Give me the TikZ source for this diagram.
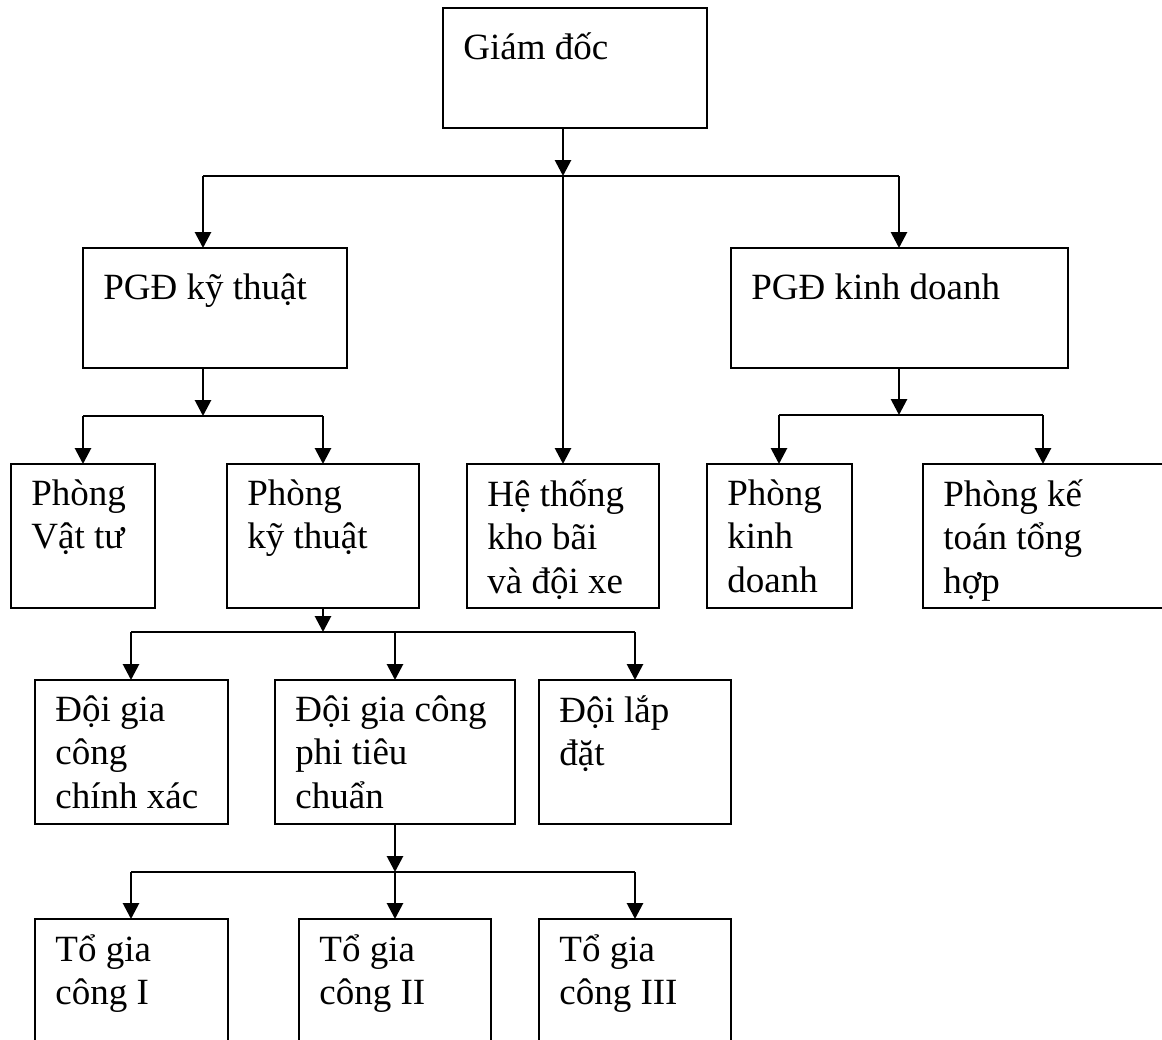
\documentclass[tikz,border=0pt]{standalone}
\usepackage{fontspec}
\setmainfont{Liberation Serif}
\usetikzlibrary{arrows.meta}

\begin{document}
\begin{tikzpicture}[x=0.5pt, y=-0.5pt,
  font=\fontsize{18.5}{21.8}\selectfont,
  box/.style={draw, line width=1pt, inner sep=0pt, outer sep=0pt, minimum height=72pt},
  txt/.style={anchor=north west, inner sep=0pt, align=left, xshift=10pt, yshift=-7.5pt,
    execute at begin node={\rule{0pt}{18pt}}},
  arr/.style={line width=1.4pt, -{Triangle[width=8pt, length=8pt]}},
  bus/.style={line width=0.9pt}]
\clip (0,0) rectangle (1162,1039);
% top levels
\node[box, minimum width=132pt, minimum height=60pt, label={[txt]north west:Giám đốc}] (gd) at (575,68) {};
\node[box, minimum width=132pt, minimum height=60pt, label={[txt]north west:PGĐ kỹ thuật}] (pgdkt) at (215,308) {};
\node[box, minimum width=168.5pt, minimum height=60pt, label={[txt]north west:PGĐ kinh doanh}] (pgdkd) at (899.5,308) {};
% phong ban
\node[box, minimum width=72pt, label={[txt]north west:Phòng\\Vật tư}] (pvt) at (83,536) {};
\node[box, minimum width=96pt, label={[txt]north west:Phòng\\kỹ thuật}] (pkt) at (323,536) {};
\node[box, minimum width=96pt, label={[txt]north west:Hệ thống\\kho bãi\\và đội xe}] (htk) at (563,536) {};
\node[box, minimum width=72.5pt, label={[txt]north west:Phòng\\kinh\\doanh}] (pkd) at (779.5,536) {};
\node[box, minimum width=120pt, label={[txt]north west:Phòng kế\\toán tổng\\hợp}] (pkt2) at (1043,536) {};
% doi
\node[box, minimum width=96.5pt, label={[txt]north west:Đội gia\\công\\chính xác}] (dgc) at (131.5,752) {};
\node[box, minimum width=120pt, label={[txt]north west:Đội gia công\\phi tiêu\\chuẩn}] (dpt) at (395,752) {};
\node[box, minimum width=96pt, label={[txt]north west:Đội lắp\\đặt}] (dld) at (635,752) {};
% to
\node[box, minimum width=96.5pt, label={[txt]north west:Tổ gia\\công I}] (tgc1) at (131.5,991) {};
\node[box, minimum width=96pt, label={[txt]north west:Tổ gia\\công II}] (tgc2) at (395,991) {};
\node[box, minimum width=96pt, label={[txt]north west:Tổ gia\\công III}] (tgc3) at (635,991) {};
% junctions
\coordinate (jgd) at (563,176);
\coordinate (jl) at (203,176);
\coordinate (jr) at (899,176);
\coordinate (jkt) at (203,416);
\coordinate (jkt1) at (83,416);
\coordinate (jkt2) at (323,416);
\coordinate (jkd) at (899,415);
\coordinate (jkd1) at (779,415);
\coordinate (jkd2) at (1043,415);
\coordinate (jd) at (323,632);
\coordinate (jd1) at (131,632);
\coordinate (jd2) at (395,632);
\coordinate (jd3) at (635,632);
\coordinate (jt) at (395,872);
\coordinate (jt1) at (131,872);
\coordinate (jt3) at (635,872);
% connectors
\draw[bus] (jl) -- (jr);
\draw[arr] (gd.south -| jgd) -- (jgd);
\draw[arr] (jgd) -- (htk.north);
\draw[arr] (jl) -- (jl |- pgdkt.north);
\draw[arr] (jr) -- (jr |- pgdkd.north);
\draw[bus] (jkt1) -- (jkt2);
\draw[arr] (pgdkt.south -| jkt) -- (jkt);
\draw[arr] (jkt1) -- (pvt.north);
\draw[arr] (jkt2) -- (pkt.north);
\draw[bus] (jkd1) -- (jkd2);
\draw[arr] (pgdkd.south -| jkd) -- (jkd);
\draw[arr] (jkd1) -- (jkd1 |- pkd.north);
\draw[arr] (jkd2) -- (pkt2.north);
\draw[bus] (jd1) -- (jd3);
\draw[arr] (pkt.south) -- (jd);
\draw[arr] (jd1) -- (jd1 |- dgc.north);
\draw[arr] (jd2) -- (dpt.north);
\draw[arr] (jd3) -- (dld.north);
\draw[bus] (jt1) -- (jt3);
\draw[arr] (dpt.south) -- (jt);
\draw[arr] (jt) -- (tgc2.north);
\draw[arr] (jt1) -- (jt1 |- tgc1.north);
\draw[arr] (jt3) -- (tgc3.north);
\end{tikzpicture}
\end{document}
